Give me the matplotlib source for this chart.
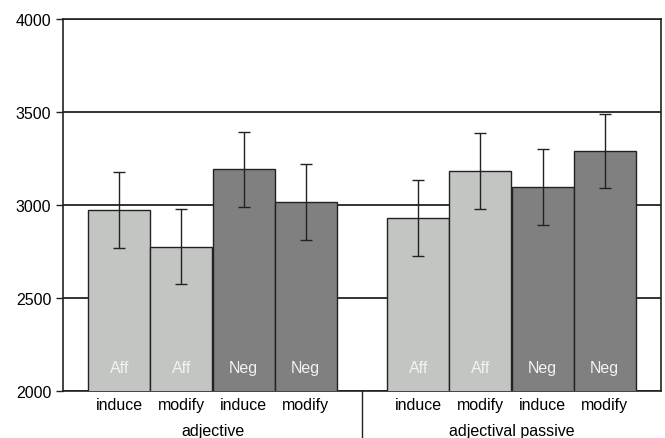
import numpy as np
import matplotlib.pyplot as plt

plt.rcParams['font.family'] = ['Liberation Sans', 'DejaVu Sans']

groups = ['adjective', 'adjectival passive']
verbs = ['induce', 'modify', 'induce', 'modify']
polarity = ['Aff', 'Aff', 'Neg', 'Neg']
means = [2971, 2776, 3192, 3016, 2932, 3185, 3095, 3289]
errors = [204, 201, 201, 202, 204, 204, 204, 200]

light = '#c3c5c3'
dark = '#808080'
fs = 11.5

fig = plt.figure(figsize=(6.65, 4.39), dpi=100)
ax = fig.add_axes([63 / 665, 1 - 392 / 439, 598 / 665, 372 / 439])

group_w = 4.82
xs = []
for g in range(len(groups)):
    start = g * group_w + 0.41
    for i in range(4):
        xs.append(start + i + 0.5)
xs = np.array(xs)
colors = [light if p == 'Aff' else dark for p in polarity] * 2

ax.bar(xs, means, width=1.0, color=colors, edgecolor='#222222', linewidth=1.0, zorder=3)
ax.errorbar(xs, means, yerr=errors, fmt='none', ecolor='#222222', elinewidth=1.0,
            capsize=4.5, capthick=1.0, zorder=4)

for x, lab in zip(xs, polarity * 2):
    ax.text(x, 2085, lab, ha='center', va='bottom', color='#f2f2f2', fontsize=fs, zorder=5)

ax.set_ylim(2000, 4000)
ax.set_xlim(0, 2 * group_w)
ax.set_yticks([2000, 2500, 3000, 3500, 4000])
ax.tick_params(axis='y', labelsize=fs, length=5, width=1, direction='out', color='#222222')
ax.yaxis.grid(True, color='#111111', linewidth=1.2, zorder=0)
ax.set_axisbelow(True)
ax.set_xticks([])
for s in ax.spines.values():
    s.set_color('#222222')
    s.set_linewidth(1.2)

for x, v in zip(xs, verbs * 2):
    ax.text(x, -0.035, v, transform=ax.get_xaxis_transform(), ha='center', va='center', fontsize=fs)
for g, name in enumerate(groups):
    ax.text(g * group_w + group_w / 2, -0.105, name, transform=ax.get_xaxis_transform(),
            ha='center', va='center', fontsize=fs)
ax.plot([group_w, group_w], [0, -0.15], transform=ax.get_xaxis_transform(), color='#222222',
        linewidth=1.0, clip_on=False)

fig.savefig('out.png', dpi=100)
